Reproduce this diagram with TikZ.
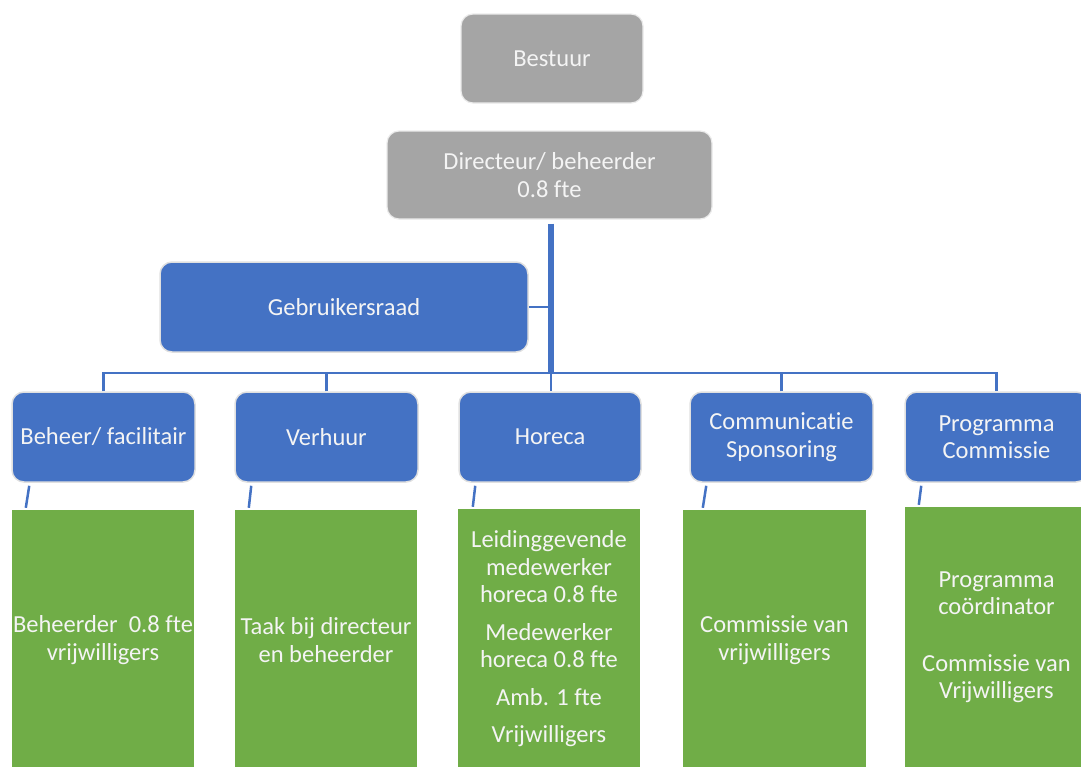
\documentclass[tikz,border=0pt]{standalone}
\usepackage{fontspec}
\setmainfont[Ligatures={NoCommon}]{Carlito}
\usetikzlibrary{calc}
\definecolor{grfill}{HTML}{A5A5A5}
\definecolor{blfill}{HTML}{4472C4}
\definecolor{gnfill}{HTML}{70AD47}
\definecolor{txt}{HTML}{F4F4F4}
\begin{document}
\begin{tikzpicture}[x=1pt,y=-1pt,
  base/.style={text=txt, font=\fontsize{24.5}{27.5}\selectfont, align=center, inner sep=0pt},
  greybox/.style={base, rounded corners=12pt, fill=grfill, draw=white!92!black, line width=1.2pt},
  bluebox/.style={base, rounded corners=12pt, fill=blfill, draw=white!88!black, line width=1.5pt, minimum height=90, minimum width=183},
  greenbox/.style={base, fill=gnfill, minimum height=260, minimum width=182},
  conn/.style={draw=blfill, line width=2.5pt},
  thickconn/.style={draw=blfill, line width=5.5pt}]
\path[use as bounding box] (0,0) rectangle (1081,766);
\clip (0,0) rectangle (1081,766);
% top
\node[greybox, minimum width=182, minimum height=89] (bestuur) at (552,58.5) {Bestuur};
\node[greybox, minimum width=325, minimum height=88] (dir) at (549.5,175) {Directeur/ beheerder\\0.8 fte};
\node[bluebox, minimum width=368, minimum height=90] (gebr) at (344,307) {Gebruikersraad};
% level 2
\node[bluebox] (beheer) at (103.5,437) {Beheer/ facilitair};
\node[bluebox] (verhuur) at (326.5,437) {Verhuur};
\node[bluebox, minimum width=182] (horeca) at (550,437) {Horeca};
\node[bluebox] (comm) at (781.5,437) {Communicatie\\Sponsoring};
\node[bluebox] (prog) at (996.5,437) {Programma\\Commissie};
% green
\node[greenbox] (gbeheer) at (103,640) {Beheerder~ 0.8 fte\\vrijwilligers};
\node[greenbox] (gverhuur) at (326,640) {Taak bij directeur\\en beheerder};
\node[greenbox] (ghoreca) at (549,639) {Leidinggevende\\medewerker\\horeca 0.8 fte\\[10pt]Medewerker\\horeca 0.8 fte\\[10pt]Amb. 1 fte\\[10pt]Vrijwilligers};
\node[greenbox, minimum width=183] (gcomm) at (774.5,640) {Commissie van\\vrijwilligers};
\node[greenbox, minimum width=183] (gprog) at (996.5,637) {Programma\\coördinator\\[29pt]Commissie van\\Vrijwilligers};
% connectors
\coordinate (bus) at (551,373);
\draw[thickconn] ($(dir.south)+(1.5,4)$) -- (bus);
\draw[conn] (bus) -- (horeca.north -| bus);
\draw[conn] (gebr.east) -- (gebr.east -| bus);
\draw[conn] (beheer.north) |- (bus) -| (prog.north);
\draw[conn] (verhuur.north) |- (bus);
\draw[conn] (comm.north) |- (bus);
% small slanted links
\draw[conn] ($(beheer.south west)+(18,3)$) -- ($(gbeheer.north west)+(14,-2)$);
\draw[conn] ($(verhuur.south west)+(17,3)$) -- ($(gverhuur.north west)+(14,-2)$);
\draw[conn] ($(horeca.south west)+(17,3)$) -- ($(ghoreca.north west)+(15,-2)$);
\draw[conn] ($(comm.south west)+(17,3)$) -- ($(gcomm.north west)+(20,-2)$);
\draw[conn] ($(prog.south west)+(17,3)$) -- ($(gprog.north west)+(14,-2)$);
\end{tikzpicture}
\end{document}
